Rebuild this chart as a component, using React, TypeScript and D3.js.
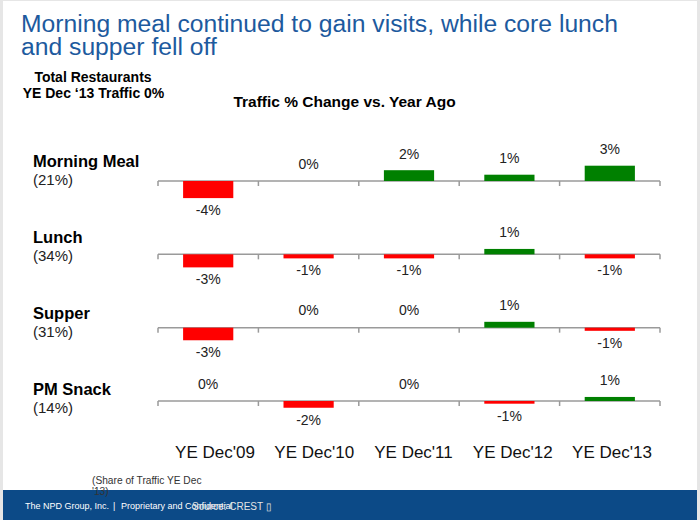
import React from "react";
import * as d3 from "d3";

const years = ["YE Dec'09", "YE Dec'10", "YE Dec'11", "YE Dec'12", "YE Dec'13"];
const meals = ["Morning Meal", "Lunch", "Supper", "PM Snack"];
const shares = ["(21%)", "(34%)", "(31%)", "(14%)"];
const morningMeal = [-3.8, 0, 2.4, 1.4, 3.4];
const lunch = [-2.9, -0.9, -0.9, 1.2, -0.9];
const supper = [-2.8, 0, 0, 1.3, -0.7];
const pmSnack = [0, -1.5, 0, -0.6, 0.9];
const series = [morningMeal, lunch, supper, pmSnack];

const W = 700;
const H = 520;
const FONT = "Liberation Sans, Arial, Helvetica, sans-serif";

function fmt(v: number): string {
  const r = Math.round(Math.abs(v));
  if (r === 0) return "0%";
  return (v < 0 ? "-" : "") + r + "%";
}

export default function App() {
  const x = d3.scaleBand<string>().domain(years).range([158, 660]).paddingInner(0.5).paddingOuter(0.25);
  const step = x.step();
  const tickXs = d3.range(years.length + 1).map((i) => 158 + i * step);
  const rowY = d3.scalePoint<string>().domain(meals).range([181, 401]);
  const labelY = d3.scalePoint<string>().domain(meals).range([167, 395]);
  const v = d3.scaleLinear().domain([0, 1]).range([0, -4.5]);
  const xLabel = d3.scalePoint<string>().domain(years).range([215, 612]);

  return (
    <svg width={W} height={H} style={{ position: "absolute", left: 0, top: 0 }} fontFamily={FONT}>
      <rect x={0} y={0} width={W} height={H} fill="#e6e6e6" />
      <rect x={3} y={1} width={694} height={H - 1} fill="#ffffff" />

      <text fontSize={24.7} fill="#1d5a9e">
        <tspan x={21} y={32}>Morning meal continued to gain visits, while core lunch</tspan>
        <tspan x={21} y={55}>and supper fell off</tspan>
      </text>

      <text fontSize={14} fontWeight="bold" textAnchor="middle" fill="#000">
        <tspan x={93} y={82}>Total Restaurants</tspan>
        <tspan x={93.5} y={98}>YE Dec ‘13 Traffic 0%</tspan>
      </text>
      <text x={344.5} y={107} fontSize={15.5} fontWeight="bold" textAnchor="middle" fill="#000">
        Traffic % Change vs. Year Ago
      </text>

      {meals.map((m, mi) => {
        const y0 = rowY(m) as number;
        const ly = labelY(m) as number;
        const vals = series[mi];
        return (
          <g key={m}>
            <text x={33} y={ly} fontSize={16.5} fontWeight="bold" fill="#000">
              {m}
            </text>
            <text x={33} y={ly + 18} fontSize={15} fill="#222">
              {shares[mi]}
            </text>
            <line x1={tickXs[0]} x2={tickXs[tickXs.length - 1]} y1={y0} y2={y0} stroke="#9a9a9a" strokeWidth={1.5} />
            {tickXs.map((tx, ti) => (
              <line key={ti} x1={tx} x2={tx} y1={y0} y2={y0 + 5} stroke="#9a9a9a" strokeWidth={1.5} />
            ))}
            {vals.map((val, i) => {
              const bx = x(years[i]) as number;
              const bw = x.bandwidth();
              const off = v(val);
              const top = Math.min(y0, y0 + off);
              const h = Math.abs(off);
              const cx = bx + bw / 2;
              const ty = val < 0 ? y0 + h + 17 : y0 - h - 11.5;
              return (
                <g key={i}>
                  {h > 0 && (
                    <rect x={bx} y={top} width={bw} height={h} fill={val < 0 ? "#ff0000" : "#008000"} />
                  )}
                  <text x={cx} y={val === 0 ? y0 - 12.5 : ty} fontSize={14} textAnchor="middle" fill="#222">
                    {fmt(val)}
                  </text>
                </g>
              );
            })}
          </g>
        );
      })}

      {years.map((yr) => (
        <text key={yr} x={xLabel(yr)} y={458} fontSize={17} textAnchor="middle" fill="#111">
          {yr}
        </text>
      ))}

      <rect x={3} y={490} width={694} height={30} fill="#0c4a87" />
      <text fill="#ffffff">
        <tspan x={25} y={509} fontSize={9}>The NPD Group, Inc.</tspan>
        <tspan x={113} y={509} fontSize={9}>|</tspan>
        <tspan x={121} y={509} fontSize={9}>Proprietary and Confidential</tspan>
        <tspan x={192} y={510} fontSize={10} fill="#e4e4e4">Source: CREST ▯</tspan>
      </text>
      <text fontSize={10.2} fill="#333">
        <tspan x={92} y={484}>(Share of Traffic YE Dec</tspan>
        <tspan x={92} y={495}>'13)</tspan>
      </text>
    </svg>
  );
}
